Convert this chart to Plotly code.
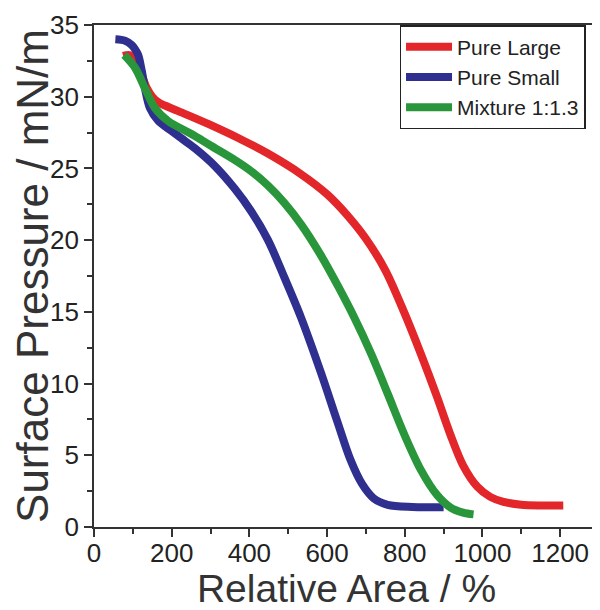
import plotly.graph_objects as go

# Pure Large
large_x = [75, 93, 106, 119, 136, 150, 166, 217, 294, 380, 450, 533, 600, 650, 700, 750, 798, 841, 884, 918, 950, 987, 1020, 1054, 1100, 1150, 1208]
large_y = [32.85, 32.9, 32.5, 31.8, 30.6, 30.0, 29.6, 29.0, 28.1, 27.0, 26.0, 24.6, 23.2, 21.8, 20.1, 17.9, 15.0, 12.1, 9.0, 6.4, 4.3, 2.8, 2.1, 1.75, 1.55, 1.5, 1.5]

# Pure Small
small_x = [55, 80, 97, 106, 114, 123, 131, 144, 166, 200, 225, 260, 310, 362, 405, 448, 490, 533, 585, 627, 660, 690, 720, 756, 820, 900]
small_y = [34.0, 33.9, 33.6, 33.3, 32.9, 31.8, 30.6, 29.2, 28.3, 27.6, 27.1, 26.4, 25.2, 23.6, 22.0, 20.0, 17.4, 14.6, 10.7, 7.3, 4.7, 3.0, 2.0, 1.55, 1.4, 1.37]

# Mixture 1:1.3
mix_x = [78, 106, 131, 157, 191, 251, 300, 362, 405, 448, 490, 533, 585, 630, 670, 713, 756, 798, 841, 884, 918, 950, 977]
mix_y = [32.9, 32.0, 30.6, 29.2, 28.3, 27.4, 26.6, 25.6, 24.8, 23.8, 22.6, 21.1, 18.9, 16.7, 14.6, 12.1, 9.3, 6.5, 4.0, 2.2, 1.35, 1.0, 0.88]

names = ["Pure Large", "Pure Small", "Mixture 1:1.3"]
colors = ["#e3262a", "#2e2f8e", "#2a963c"]

FONT = "Liberation Sans, Arial, sans-serif"

fig = go.Figure()
for xs, ys, nm, c in [(large_x, large_y, names[0], colors[0]),
                      (small_x, small_y, names[1], colors[1]),
                      (mix_x, mix_y, names[2], colors[2])]:
    fig.add_trace(go.Scatter(x=xs, y=ys, mode="lines", name=nm,
                             line=dict(color=c, width=8, shape="spline", smoothing=0.9)))

axis_common = dict(showgrid=False, zeroline=False, showline=True, linecolor="#333333",
                   linewidth=1.6, mirror=True, ticks="outside", ticklen=8, tickwidth=1.5,
                   tickcolor="#333333", automargin=False,
                   tickfont=dict(size=26, color="#222222", family=FONT))

fig.update_xaxes(range=[0, 1300], dtick=200, tick0=0, ticklabelstandoff=-6,
                 minor=dict(dtick=100, ticks="outside", ticklen=5, tickwidth=1.5, tickcolor="#333333"),
                 title=dict(text="Relative Area / %", font=dict(size=39, color="#333333", family=FONT), standoff=0),
                 **axis_common)
fig.update_yaxes(range=[0, 35], dtick=5, tick0=0,
                 minor=dict(dtick=2.5, ticks="outside", ticklen=5, tickwidth=1.5, tickcolor="#333333"),
                 title=dict(text="Surface Pressure / mN/m", font=dict(size=44, color="#333333", family=FONT), standoff=0),
                 **axis_common)

fig.update_layout(
    width=592, height=602,
    margin=dict(l=86, r=1, t=17, b=83),
    paper_bgcolor="white", plot_bgcolor="white",
    font=dict(family=FONT),
    legend=dict(x=0.605, y=1.0, xanchor="left", yanchor="top",
                bordercolor="#222222", borderwidth=1.5, bgcolor="white",
                font=dict(size=21, color="#222222", family=FONT),
                tracegroupgap=0, itemwidth=46),
    showlegend=True,
)

fig.write_html("out.html")
